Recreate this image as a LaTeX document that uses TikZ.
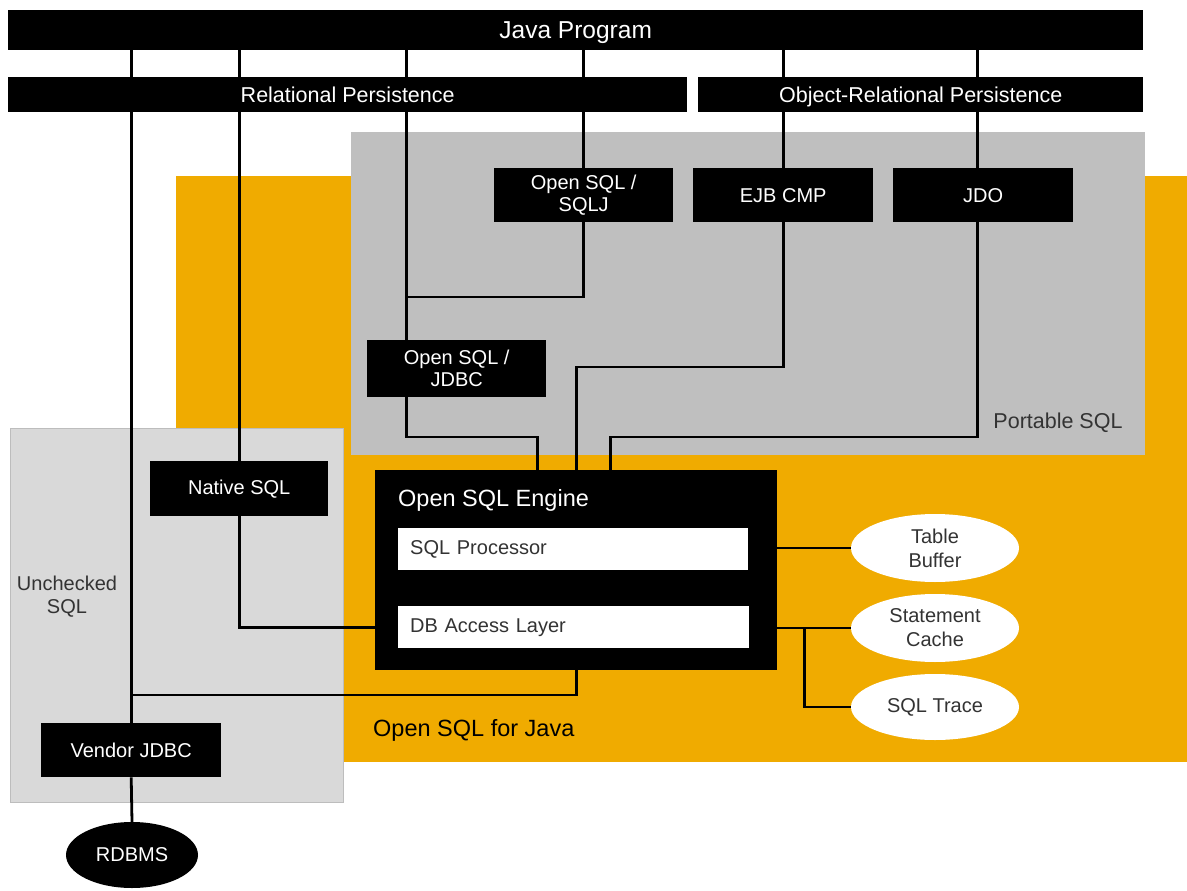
\documentclass[tikz,border=0pt]{standalone}
\usepackage{fontspec}
\setmainfont{Liberation Sans}
\usetikzlibrary{shapes.geometric,calc}
\definecolor{sapgold}{HTML}{F0AB00}
\definecolor{portgray}{HTML}{BFBFBF}
\definecolor{uncgray}{HTML}{D9D9D9}
\definecolor{uncedge}{HTML}{BDBDBD}
\definecolor{ink}{HTML}{333333}
\newcommand\fsz[2]{\fontsize{#1}{#2}\selectfont}
\pgfdeclarelayer{regions}
\pgfdeclarelayer{wires}
\pgfsetlayers{regions,wires,main}
\tikzset{
  blk/.style={fill=black, text=white, inner sep=0pt, anchor=north west, align=center, font=\fsz{20}{22}},
  bar/.style={blk, font=\fsz{21.5}{24}, text height=15.5pt, text depth=0pt},
  wbox/.style={fill=white, text=ink, inner ysep=0pt, inner xsep=12pt, anchor=north west, align=left, font=\fsz{20}{22}},
  oval/.style={ellipse, fill=white, text=ink, inner sep=0pt, align=center, font=\fsz{20}{24}},
  area/.style={inner sep=0pt, anchor=north west},
  wire/.style={line width=2.8pt, draw=black},
}
\begin{document}
\begin{tikzpicture}[x=1pt, y=-1pt]
\useasboundingbox (0,0) rectangle (1187,891);

% background regions
\begin{pgfonlayer}{regions}
\fill[white] (0,0) rectangle (1187,891);
\node[area, fill=sapgold, minimum width=1011, minimum height=586] (osj) at (176,176) {};
\node[area, fill=portgray, minimum width=794, minimum height=323] (port) at (351,132) {};
\node[area, fill=uncgray, draw=uncedge, line width=1pt, minimum width=333, minimum height=374] (unc) at (10,428) {};

\node[text=ink, font=\fsz{21.5}{24}] (portlbl) at (1058,423) {Portable SQL};
\node[text=black, anchor=west, inner sep=0pt, font=\fsz{23.5}{26}] (osjlbl) at (373,730) {Open SQL for Java};
\node[text=ink, align=center, font=\fsz{20}{23}] (unclbl) at (67,597) {Unchecked\\SQL};
\end{pgfonlayer}

% top bars
\node[bar, font=\fsz{24.5}{26}, text height=17.5pt, minimum width=1135, minimum height=40] (java) at (8,10) {Java Program};
\node[bar, minimum width=679, minimum height=35] (rel) at (8,77) {Relational Persistence};
\node[bar, minimum width=445, minimum height=35] (orp) at (698,77) {Object-Relational Persistence};

% API boxes
\node[blk, minimum width=179, minimum height=54] (sqlj) at (494,168) {Open SQL /\\SQLJ};
\node[blk, minimum width=180, minimum height=54] (ejb) at (693,168) {EJB CMP};
\node[blk, minimum width=180, minimum height=54] (jdo) at (893,168) {JDO};
\node[blk, minimum width=179, minimum height=57] (jdbc) at (367,340) {Open SQL /\\JDBC};
\node[blk, minimum width=178, minimum height=55] (nat) at (150,461) {Native SQL};
\node[blk, minimum width=180, minimum height=54] (vendor) at (41,723) {Vendor JDBC};
\node[ellipse, fill=black, text=white, inner sep=0pt, minimum width=132, minimum height=66, font=\fsz{20}{22}] (rdbms) at (132,855) {RDBMS};

% Open SQL engine
\node[area, fill=black, minimum width=402, minimum height=200] (engine) at (375,470) {};
\node[text=white, anchor=west, inner sep=0pt, font=\fsz{23.5}{26}] (englbl) at (398,500) {Open SQL Engine};
\node[wbox, text width=326, minimum height=42] (proc) at (398,528) {SQL Processor};
\node[wbox, text width=327, minimum height=42] (dbal) at (398,606) {DB Access Layer};

% caches
\node[oval, minimum width=168, minimum height=68] (tb) at (935,548) {Table\\Buffer};
\node[oval, minimum width=168, minimum height=68] (sc) at (935,628) {Statement\\Cache};
\node[oval, minimum width=168, minimum height=66] (tr) at (935,707) {SQL Trace};

% junction points on shared wires
\coordinate (jdbcin) at ([xshift=-50pt]jdbc.north);
\coordinate (jdbcout) at ([xshift=-50pt]jdbc.south);
\coordinate (jdoin) at ([xshift=-6pt]jdo.north);
\coordinate (jdoout) at ([xshift=-6pt]jdo.south);

\begin{pgfonlayer}{wires}
% connectors from the Java program
\draw[wire] (java.south -| vendor.north) -- (vendor.north);
\draw[wire] (java.south -| nat.north) -- (nat.north);
\draw[wire] (java.south -| jdbcin) -- (jdbcin);
\draw[wire] (java.south -| sqlj.north) -- (sqlj.north);
\draw[wire] (java.south -| ejb.north) -- (ejb.north);
\draw[wire] (java.south -| jdoin) -- (jdoin);

% connectors into the engine
\draw[wire] (sqlj.south) |- (jdbcin |- 0,297);
\draw[wire] (jdbcout) |- ([xshift=-39pt]engine.north |- 0,437) -- ([xshift=-39pt]engine.north);
\draw[wire] (ejb.south) |- (engine.north |- 0,367) -- (engine.north);
\draw[wire] (jdoout) |- ([xshift=34pt]engine.north |- 0,437) -- ([xshift=34pt]engine.north);
\draw[wire] (nat.south) |- (engine.west |- dbal.west);
\draw[wire] (engine.south) |- (vendor.north |- 0,695);
\draw[wire] (vendor.south) -- (rdbms.north);

% engine to caches
\draw[wire] (engine.east |- tb.west) -- (tb.west);
\draw[wire] (engine.east |- sc.west) -- (sc.west);
\draw[wire] ([xshift=27pt]engine.east |- sc.west) |- (tr.west);
\end{pgfonlayer}
\end{tikzpicture}
\end{document}
